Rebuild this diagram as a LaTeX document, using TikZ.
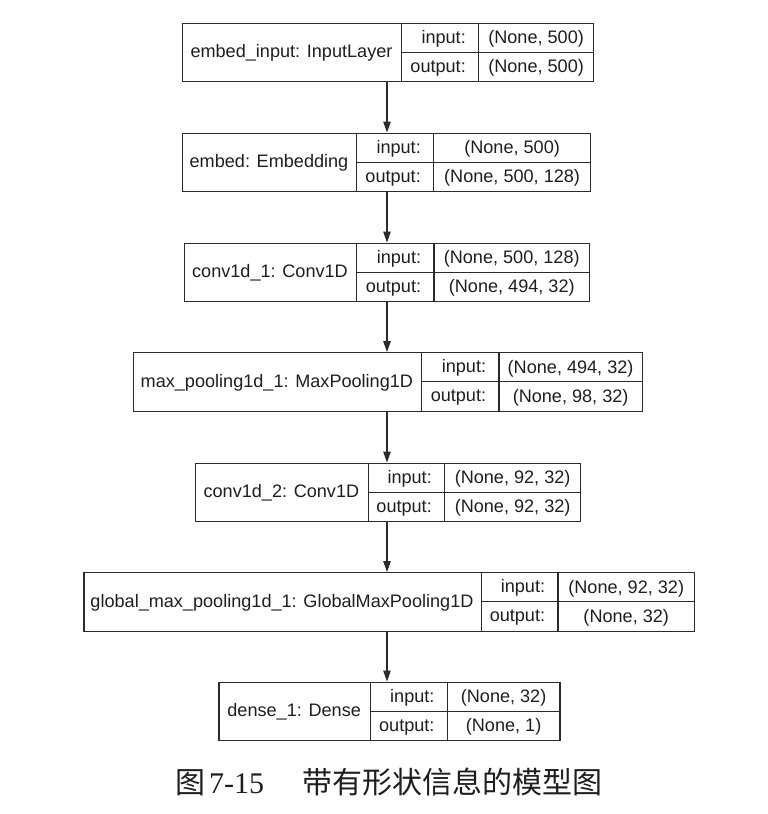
\documentclass[tikz,border=0pt]{standalone}
\usepackage{fontspec}
\setmainfont{Liberation Sans}
\newfontfamily\capserif{Liberation Serif}
\newfontfamily\cjk{Noto Sans CJK SC}
\usetikzlibrary{arrows.meta}
\definecolor{linec}{HTML}{2B2B2B}
\definecolor{textc}{HTML}{1E1E1E}
\tikzset{
  cell/.style={draw=linec, line width=1.2pt, inner sep=0pt, anchor=north west,
    text=textc, font=\fontsize{18.1}{20}\selectfont, text height=14pt, text depth=2pt},
  lbl/.style={inner sep=0pt, anchor=east, text=textc,
    font=\fontsize{18.1}{20}\selectfont, text height=14pt, text depth=2pt},
  flow/.style={draw=linec, line width=1.2pt, -{Triangle[length=11pt,width=7.5pt]}},
}
% #1 id, #2 top, #3 x0, #4 x1, #5 x2, #6 x3, #7 name, #8 input, #9 output
\newcommand\layerrec[9]{%
  \node[cell, minimum width={(#6-#3)*1pt}, minimum height=58.5pt] (#1) at (#3,#2) {};
  \node[cell, anchor=center, draw=none] (#1name) at ({(#3+#4)/2},{#2+29.25}) {#7};
  \node[cell, minimum width={(#4-#3)*1pt}, minimum height=58.5pt] (#1left) at (#3,#2) {};
  \node[cell, minimum width={(#5-#4)*1pt}, minimum height=29.25pt] (#1ik) at (#4,#2) {};
  \node[cell, minimum width={(#5-#4)*1pt}, minimum height=29.25pt] (#1ok) at (#4,{#2+29.25}) {};
  \node[cell, minimum width={(#6-#5)*1pt}, minimum height=29.25pt] (#1iv) at (#5,#2) {#8};
  \node[cell, minimum width={(#6-#5)*1pt}, minimum height=29.25pt] (#1ov) at (#5,{#2+29.25}) {#9};
  \node[lbl] (#1il) at ({#5-12},{#2+14.6}) {input:};
  \node[lbl] (#1ol) at ({#5-12},{#2+43.9}) {output:};
}
\begin{document}
\begin{tikzpicture}[x=1pt,y=-1pt]
\useasboundingbox (0,0) rectangle (768,814);
\layerrec{L1}{22.5}{182}{401}{478}{593}{embed\_input: InputLayer}{(None, 500)}{(None, 500)}
\layerrec{L2}{132.5}{182}{356}{433}{590}{embed: Embedding}{(None, 500)}{(None, 500, 128)}
\layerrec{L3}{242.5}{184}{356}{433.3}{589}{conv1d\_1: Conv1D}{(None, 500, 128)}{(None, 494, 32)}
\layerrec{L4}{352}{132.8}{421}{498.3}{641.7}{max\_pooling1d\_1: MaxPooling1D}{(None, 494, 32)}{(None, 98, 32)}
\layerrec{L5}{462.5}{195}{367.8}{444}{580}{conv1d\_2: Conv1D}{(None, 92, 32)}{(None, 92, 32)}
\layerrec{L6}{572}{83.3}{480.7}{557.3}{694}{global\_max\_pooling1d\_1: GlobalMaxPooling1D}{(None, 92, 32)}{(None, 32)}
\layerrec{L7}{681.5}{218.3}{370}{446.7}{559.3}{dense\_1: Dense}{(None, 32)}{(None, 1)}
\coordinate (ax) at (387,0);
\draw[flow] (L1.south -| ax) -- (L2.north -| ax);
\draw[flow] (L2.south -| ax) -- (L3.north -| ax);
\draw[flow] (L3.south -| ax) -- (L4.north -| ax);
\draw[flow] (L4.south -| ax) -- (L5.north -| ax);
\draw[flow] (L5.south -| ax) -- (L6.north -| ax);
\draw[flow] (L6.south -| ax) -- (L7.north -| ax);
\node[anchor=base west, inner sep=0pt, text=textc] (cap) at (175,793)
  {\fontsize{30}{32}\selectfont{\cjk 图}\hspace{4pt}{\capserif 7-15}\hspace{38pt}{\cjk 带有形状信息的模型图}};
\end{tikzpicture}
\end{document}
